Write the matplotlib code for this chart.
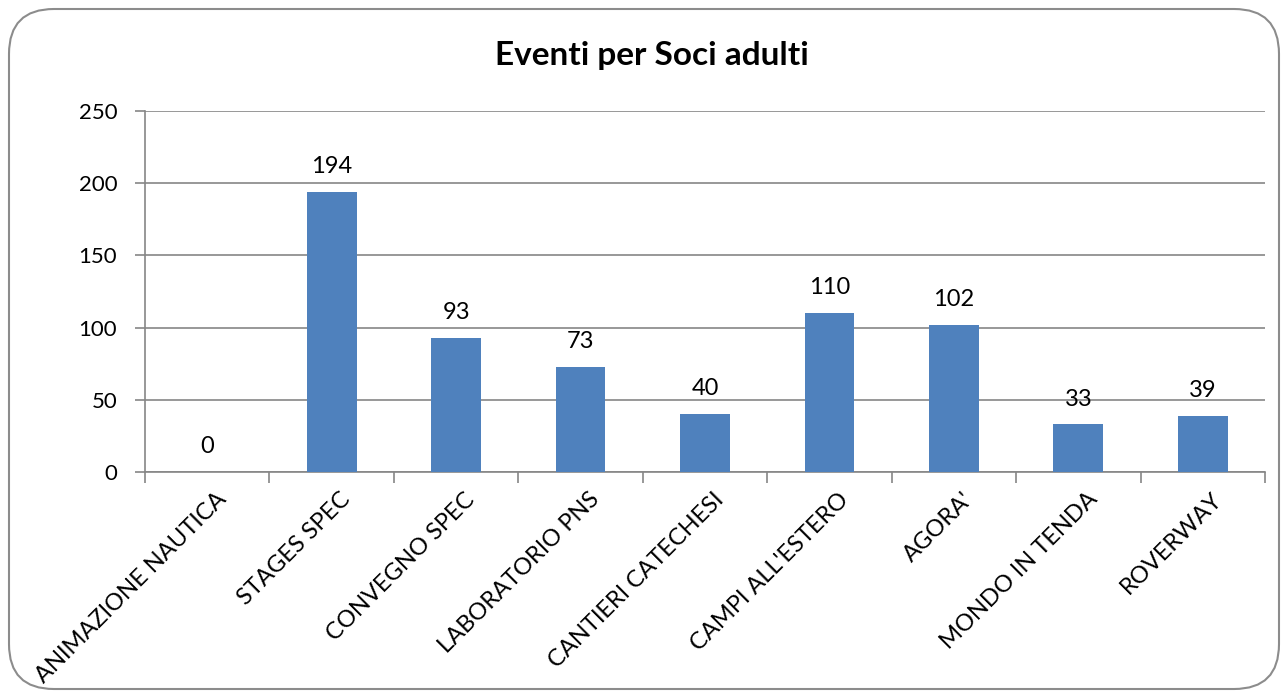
import matplotlib
matplotlib.use("Agg")
import matplotlib.pyplot as plt
from matplotlib.patches import FancyBboxPatch

categories = ["ANIMAZIONE NAUTICA", "STAGES SPEC", "CONVEGNO SPEC", "LABORATORIO PNS",
              "CANTIERI CATECHESI", "CAMPI ALL'ESTERO", "AGORA'", "MONDO IN TENDA", "ROVERWAY"]
values = [0, 194, 93, 73, 40, 110, 102, 33, 39]
yticks = [0, 50, 100, 150, 200, 250]
title = "Eventi per Soci adulti"

plt.rcParams['font.family'] = ['Lato', 'DejaVu Sans']
W, H = 1284, 697
fig = plt.figure(figsize=(W / 100, H / 100), dpi=100)
fig.patch.set_facecolor("white")

# rounded border
border = FancyBboxPatch((9 / W, 8 / H), (1270) / W, (680) / H,
                        boxstyle="round,pad=0,rounding_size=0.035",
                        transform=fig.transFigure, fill=False,
                        edgecolor="#8c8c8c", linewidth=1.5,
                        mutation_aspect=W / H)
fig.patches.append(border)

ax = fig.add_axes([145 / W, 1 - 472 / H, (1265 - 145) / W, (472 - 111) / H])
gray = "#868686"
x = list(range(len(categories)))
bars = ax.bar(x, values, width=0.4, color="#4F81BD", zorder=3)
ax.set_xlim(-0.5, len(categories) - 0.5)
ax.set_ylim(0, 250)
ax.set_yticks(yticks)
ax.set_yticklabels([str(v) for v in yticks], fontsize=16)
ax.yaxis.grid(True, color=gray, linewidth=1.2, zorder=0)
ax.set_axisbelow(True)
for s in ["top", "right"]:
    ax.spines[s].set_visible(False)
for s in ["left", "bottom"]:
    ax.spines[s].set_color(gray)
    ax.spines[s].set_linewidth(1.2)
ax.tick_params(axis="y", length=7, color=gray, width=1.2, pad=13)

# x ticks at category boundaries
ax.set_xticks([i - 0.5 for i in range(len(categories) + 1)])
ax.set_xticklabels([])
ax.tick_params(axis="x", length=8, color=gray, width=1.2)

for i, c in enumerate(categories):
    ax.annotate(c, xy=(i, 0), xycoords="data", xytext=(6, -12), textcoords="offset points",
                rotation=45, rotation_mode="anchor", ha="right", va="top", fontsize=17)

for i, v in enumerate(values):
    ax.annotate(str(v), xy=(i, v), xytext=(0, 13.5), textcoords="offset points",
                ha="center", va="baseline", fontsize=17)

fig.text(652 / W, 1 - 56 / H, title, ha="center", va="center", fontsize=24, fontweight="bold")

fig.savefig("out.png", dpi=100)
